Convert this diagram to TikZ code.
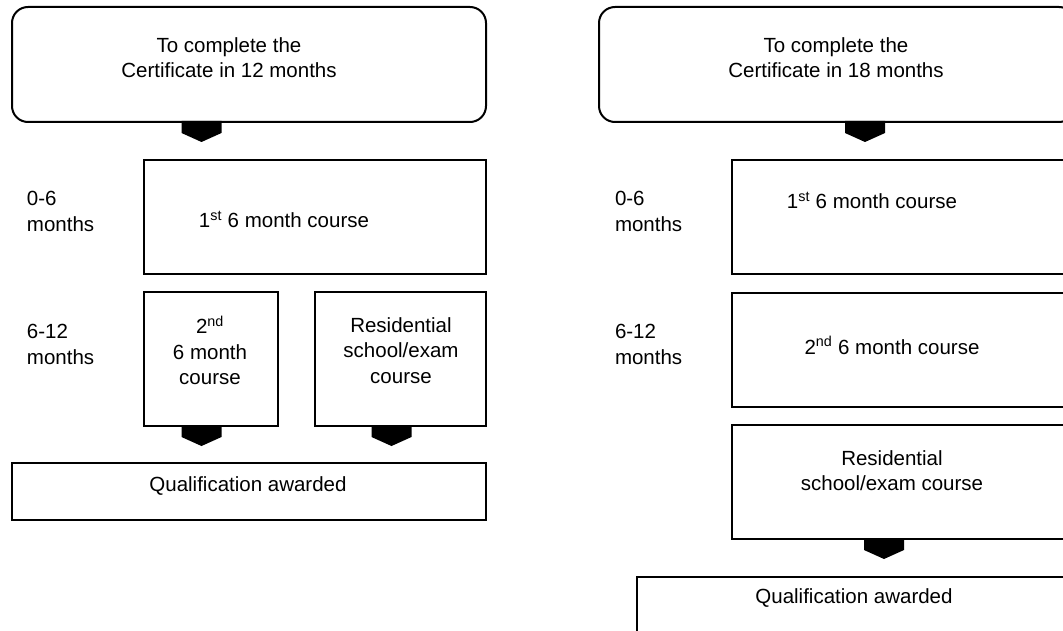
\documentclass[tikz,border=0pt]{standalone}
\usepackage{fontspec}
\setmainfont{Liberation Sans}
\begin{document}
\begin{tikzpicture}[x=1pt,y=-1pt,
  box/.style={draw, line width=2pt, inner sep=0pt, outer sep=0pt, anchor=north west},
  rbox/.style={box, rounded corners=16pt},
  txt/.style={inner sep=0pt, outer sep=0pt, align=center, font=\fontsize{20.5}{25.5}\selectfont},
  ltxt/.style={txt, align=left, anchor=west},
  tab/.pic={\fill (-20,-1) -- (20,-1) -- (20,11) -- (0,20) -- (-20,11) -- cycle;}
]
\clip (0,0) rectangle (1063,631);
\fill[white] (0,0) rectangle (1063,631);

% ---------- left panel ----------
\node[rbox, minimum width=474pt, minimum height=115pt] (top1) at (12,7) {};
\node[txt] (top1t) at (229,57.5) {To complete the\\Certificate in 12 months};
\pic at ([xshift=-47.5pt]top1.south) {tab};

\node[ltxt] (l06) at (27,211.5) {0-6\\months};
\node[box, minimum width=342pt, minimum height=114pt] (c1) at (144,160) {};
\node[txt] (c1t) at (284,219.5) {1\textsuperscript{st} 6 month course};

\node[ltxt] (l612) at (27,344.5) {6-12\\months};
\node[box, minimum width=134pt, minimum height=134pt] (c2) at (144,292) {};
\node[txt] (c2t) at (210,350.5) {2\textsuperscript{nd}\\6 month\\course};
\node[box, minimum width=171pt, minimum height=134pt] (r1) at (315,292) {};
\node[txt] (r1t) at (401,350.5) {Residential\\school/exam\\course};
\pic at ([xshift=-9.5pt]c2.south) {tab};
\pic at ([xshift=-9pt]r1.south) {tab};

\node[box, minimum width=474pt, minimum height=57pt] (q1) at (12,463) {};
\node[txt] (q1t) at (248,486.5) {Qualification awarded};

% ---------- right panel ----------
\node[rbox, minimum width=476pt, minimum height=115pt] (top2) at (599,7) {};
\node[txt] (top2t) at (836,57.5) {To complete the\\Certificate in 18 months};
\pic at ([xshift=28pt]top2.south) {tab};

\node[ltxt] (m06) at (615,211.5) {0-6\\months};
\node[box, minimum width=343pt, minimum height=114pt] (d1) at (732,160) {};
\node[txt] (d1t) at (872,200.5) {1\textsuperscript{st} 6 month course};

\node[ltxt] (m612) at (615,344.5) {6-12\\months};
\node[box, minimum width=343pt, minimum height=114pt] (d2) at (732,293) {};
\node[txt] (d2t) at (892,345.5) {2\textsuperscript{nd} 6 month course};

\node[box, minimum width=343pt, minimum height=114pt] (r2) at (732,425) {};
\node[txt] (r2t) at (892,470.5) {Residential\\school/exam course};
\pic at ([xshift=-19.5pt]r2.south) {tab};

\node[box, minimum width=438pt, minimum height=80pt] (q2) at (637,577) {};
\node[txt] (q2t) at (854,598) {Qualification awarded};
\end{tikzpicture}
\end{document}
